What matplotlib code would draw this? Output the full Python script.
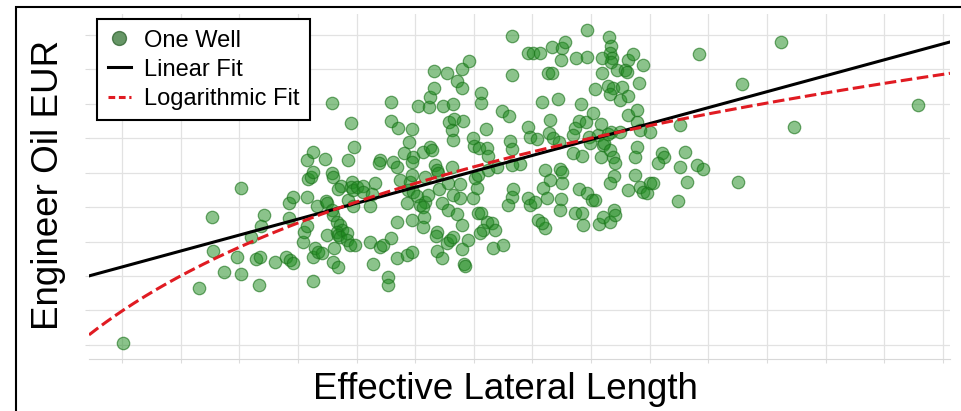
import numpy as np
import matplotlib
matplotlib.use("Agg")
import matplotlib.pyplot as plt
from matplotlib.lines import Line2D
from matplotlib.patches import Rectangle

### Data ###

# Effective lateral length (ft) and engineer oil EUR (Mbbl), one entry per well
lateral_ft = [
    4020, 5310, 5530, 5550, 5740, 5960, 6030, 6030, 6200, 6290, 6350, 6340, 6420, 6370,
    6610, 6800, 6870, 6920, 6850, 6850, 6920,
    7090, 7100, 7150, 7150, 7150, 7260, 7170, 7220, 7260, 7260, 7260, 7290, 7340, 7410,
    7330, 7460, 7480, 7500, 7500, 7580, 7580, 7600, 7580, 7600, 7620, 7600, 7680, 7670,
    7720, 7750, 7670, 7680, 7720, 7840, 7840, 7890, 7970, 7730, 7680, 7850, 7850, 7940,
    7910, 7960, 7920, 7910, 7940, 8010,
    8110, 8110, 8310, 8260, 8230, 8230, 8400, 8450, 8590, 8280, 8540, 8540, 8690, 8860,
    8950, 8400, 8380, 8620, 8690, 8810, 8960, 8950, 8590, 8590, 8710, 8950, 8890, 9050,
    8740, 8910, 8880, 8960, 8950, 9030, 8860, 8690, 8950,
    9240, 9250, 9320, 9320, 9540, 9800, 9920, 9710, 9800, 9470, 9640, 9580, 9660, 9820,
    9630, 9640, 9990, 10000, 10090, 9130, 9250, 9290, 9340, 9370, 9630, 9170, 9170, 9220,
    9080, 9130, 9390, 9410, 9560, 9760, 9640, 9760, 9990, 10050, 10020, 10070, 9460, 9560,
    9710, 9800, 10070, 9900, 9150, 9130, 9370, 9350, 9540, 9590, 9640, 9800, 9370, 9460,
    9830, 9850,
    10120, 10120, 10210, 10220, 10240, 10480, 10600, 10620, 10650, 10650, 10650, 10920,
    11010, 10920, 10960, 11080, 10240, 10400, 10670, 10650, 10580, 10920, 10960, 11040,
    10220, 10310, 10160, 10360, 10100, 10330, 10500, 11090, 10790, 10650, 10120,
    11130, 11330, 11500, 11550, 11490, 11740, 11930, 11930, 11260, 11330, 11160, 11440,
    11830, 12070, 11300, 11790, 11910, 12030, 11280, 11350, 11450, 11730, 11690, 11960,
    11980, 12120, 11690, 11840, 11210, 11470, 11500, 11300, 11500, 11180, 11250, 11490,
    11470, 11210, 11790, 11930, 12010, 12070, 11730, 11840, 11860, 12130, 11160,
    12300, 12340, 12320, 12360, 12340, 12190, 12630, 12710, 12190, 12440, 12580, 12610,
    12880, 13840, 12820, 12290, 12370, 12530, 12320, 12490, 12630, 12170, 12340, 12630,
    12780, 12780, 13520, 12200, 12220, 12320, 12490, 12830, 13000, 12780, 13600, 13210,
    13240, 12170, 12370, 12410, 12750, 13140, 13520, 12390, 12320, 12750, 12630, 12830,
    12880, 12950, 13000, 13060, 13630, 13810, 13910, 13480, 12200, 12320, 12390, 12410,
    12290,
    14500, 14570, 15240, 15460, 17570,
]
eur_mbbl = [
    106, 266, 472, 373, 312, 356, 556, 306, 414, 350, 356, 274, 477, 446,
    341, 356, 347, 338, 469, 512, 530,
    399, 428, 446, 530, 637, 660, 582, 588, 602, 356, 286, 382, 370, 367,
    504, 640, 518, 512, 419, 803, 599, 588, 492, 477, 382, 341, 326, 457,
    448, 434, 428, 419, 414, 425, 405, 390, 390, 562, 553, 637, 521, 504,
    745, 675, 573, 559, 550, 559,
    562, 544, 570, 538, 504, 399, 385, 390, 411, 335, 297, 274, 353, 361,
    370, 637, 628, 631, 617, 657, 646, 631, 806, 750, 730, 727, 689, 794,
    579, 573, 550, 544, 594, 533, 512, 457, 463,
    791, 820, 846, 896, 890, 901, 925, 867, 846, 794, 800, 747, 756, 750,
    724, 695, 701, 678, 672, 660, 675, 666, 623, 608, 617, 588, 515, 535,
    506, 501, 599, 553, 570, 567, 535, 527, 527, 556, 585, 594, 512, 492,
    480, 448, 483, 405, 472, 443, 428, 416, 396, 405, 414, 379, 373, 353,
    335, 329,
    832, 803, 727, 672, 649, 779, 765, 692, 669, 997, 884, 948,
    948, 733, 704, 698, 608, 617, 553, 530, 506, 527, 506, 515,
    457, 454, 434, 434, 425, 382, 390, 463, 625, 623, 483,
    948, 965, 962, 980, 927, 933, 936, 1015, 890, 890, 806, 814,
    800, 843, 753, 750, 747, 774, 716, 701, 689, 730, 710, 704,
    686, 710, 657, 649, 608, 611, 602, 579, 570, 556, 527, 524,
    492, 440, 553, 541, 521, 521, 483, 483, 448, 451, 454,
    994, 968, 948, 933, 922, 933, 927, 945, 890, 898, 898, 893,
    913, 945, 861, 852, 846, 849, 829, 811, 823, 742, 718, 768,
    782, 747, 739, 681, 686, 666, 718, 724, 718, 675, 660, 657,
    646, 646, 646, 628, 646, 628, 617, 591, 570, 594, 550, 559,
    544, 541, 570, 570, 573, 623, 611, 518, 472, 457, 492, 477,
    713,
    573, 858, 980, 733, 797,
]

# Fit parameters
lin_intercept, lin_slope = 141.2, 0.04628      # EUR = a + b * L
log_intercept, log_slope = -3592.0, 457.0      # EUR = a + b * ln(L)

legend_labels = ["One Well", "Linear Fit", "Logarithmic Fit"]
x_label = "Effective Lateral Length"
y_label = "Engineer Oil EUR"

# Axis ranges
x_lo, x_hi = 3437, 18120
y_lo, y_hi = 59, 1061

### Figure ###
W, H = 962, 411
fig = plt.figure(figsize=(W / 100, H / 100), dpi=100)
ax = fig.add_axes([89 / W, 1 - 359 / H, 861 / W, 345 / H])

ax.scatter(lateral_ft, eur_mbbl, s=80,
           facecolor=(0.13, 0.55, 0.13, 0.52),
           edgecolor=(0.10, 0.45, 0.10, 0.62),
           linewidth=0.9, zorder=2)

xx = np.linspace(x_lo, x_hi, 400)
ax.plot(xx, lin_intercept + lin_slope * xx, color="black", lw=2.2, zorder=3)
ax.plot(xx, log_intercept + log_slope * np.log(xx), color="#e01b22", lw=2.2,
        dashes=(3.8, 1.5), zorder=4)

ax.set_xlim(x_lo, x_hi)
ax.set_ylim(y_lo, y_hi)
ax.set_xticks(np.arange(4000, 18001, 1000))
ax.set_yticks(np.arange(100, 1001, 100))
ax.tick_params(length=3, color="#dcdcdc", labelbottom=False, labelleft=False)
ax.grid(True, color="#e2e2e2", lw=0.9)
ax.set_axisbelow(True)
for s in ["top", "right", "left"]:
    ax.spines[s].set_visible(False)
ax.spines["bottom"].set_color("#d8d8d8")

handles = [
    Line2D([], [], marker="o", ls="none", markersize=10,
           markerfacecolor=(0.2, 0.45, 0.2, 0.75), markeredgecolor=(0.2, 0.4, 0.2, 0.8)),
    Line2D([], [], color="black", lw=2.2),
    Line2D([], [], color="#e01b22", lw=2.2, dashes=(2.2, 1.2)),
]
leg = ax.legend(handles, legend_labels, loc="upper left",
                bbox_to_anchor=((97 - 89) / 861, (359 - 19) / 345),
                borderaxespad=0, fancybox=False, framealpha=1, edgecolor="black",
                handlelength=1.0, handletextpad=0.55, labelspacing=0.3, borderpad=0.45,
                prop={"family": ["Liberation Sans", "DejaVu Sans"], "size": 17})
leg.get_frame().set_linewidth(1.5)
leg.set_zorder(10)

fig.text(505 / W, 1 - 389 / H, x_label, ha="center", va="center",
         family=["Liberation Sans", "DejaVu Sans"], fontsize=26.5)
fig.text(49 / W, 1 - 185 / H, y_label, ha="center", va="center", rotation=90,
         family=["Liberation Sans", "DejaVu Sans"], fontsize=26.5)

# outer frame (open to the right and bottom)
fig.patches.append(Rectangle((16 / W, -0.1), 1.2, 1.1 - 7 / H, transform=fig.transFigure,
                             fill=False, edgecolor="black", lw=1.5, clip_on=False))

fig.savefig("out.png", dpi=100)
